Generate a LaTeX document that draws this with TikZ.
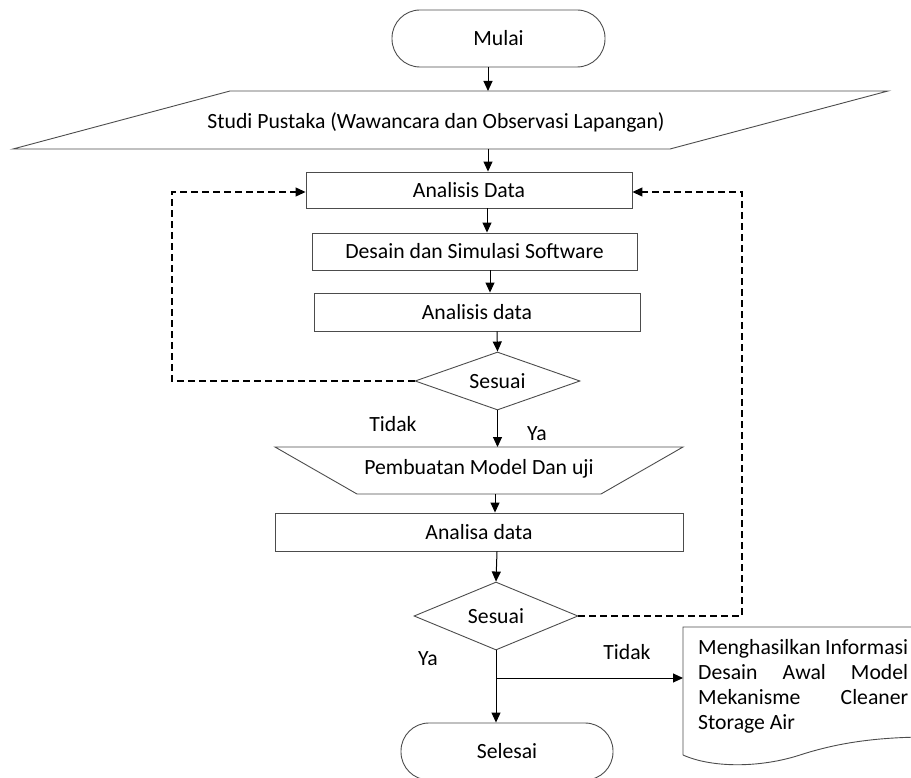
\documentclass[tikz,border=0pt]{standalone}
\usepackage{fontspec}
\setmainfont{Carlito}
\usetikzlibrary{shapes.geometric,arrows.meta}
\newcommand{\justline}[1]{\hbox to 210pt{#1}}
\begin{document}
\begin{tikzpicture}[x=1pt,y=-1pt,
  font=\fontsize{21.7}{25}\selectfont,
  shp/.style={draw=black!70, line width=0.9pt},
  boxnode/.style={shp, rectangle, inner sep=0pt},
  term/.style={shp, rectangle, rounded corners=28pt, inner sep=0pt},
  dec/.style={shp, diamond, inner sep=0pt},
  arr/.style={line width=1pt, -{Triangle[length=10pt,width=9pt]}},
  dashline/.style={line width=1.1pt, dash pattern=on 7pt off 4pt},
  dasharr/.style={dashline, -{Triangle[length=10pt,width=9pt]}},
  lbl/.style={inner sep=0pt}
]
\useasboundingbox (0,0) rectangle (911,778);
\clip (0,0) rectangle (911,778);

% terminator start
\node[term, minimum width=213pt, minimum height=57pt] (mulai) at (498.5,38.5) {Mulai};

% parallelogram
\coordinate (p1) at (230,91);
\coordinate (p2) at (888,91);
\coordinate (p3) at (670,149);
\coordinate (p4) at (13,149);
\draw[shp] (p1) -- (p2) -- (p3) -- (p4) -- cycle;
\node[lbl] (studi) at (436,122) {Studi Pustaka (Wawancara dan Observasi Lapangan)};
\coordinate (studiIn) at (488,91);
\coordinate (studiOut) at (488,149);

% boxes
\node[boxnode, minimum width=326pt, minimum height=36pt] (ad1) at (469,190) {Analisis Data};
\node[boxnode, minimum width=325pt, minimum height=37pt] (desain) at (474.5,251.5) {Desain dan Simulasi Software};
\node[boxnode, minimum width=326pt, minimum height=38pt] (ad2) at (477,312) {Analisis data};
\node[dec, aspect=2.84, minimum width=165pt, minimum height=58pt] (s1) at (497.5,381) {Sesuai};

% trapezoid
\coordinate (t1) at (275,447);
\coordinate (t2) at (683,447);
\coordinate (t3) at (601,494);
\coordinate (t4) at (357,494);
\draw[shp] (t1) -- (t2) -- (t3) -- (t4) -- cycle;
\node[lbl] (trap) at (479,469) {Pembuatan Model Dan uji};
\coordinate (trapIn) at (497,447);
\coordinate (trapOut) at (495,494);

\node[boxnode, minimum width=408pt, minimum height=38pt] (ad3) at (479,532) {Analisa data};
\node[dec, aspect=2.41, minimum width=164pt, minimum height=68pt] (s2) at (496,616) {Sesuai};
\node[term, minimum width=212pt, minimum height=57pt] (selesai) at (507,751.5) {Selesai};

% document shape
\coordinate (d1) at (683,627);
\coordinate (d2) at (930,627);
\coordinate (d3) at (930,737);
\coordinate (d4) at (683,755);
\draw[shp] (d4) -- (d1) -- (d2) -- (d3)
  .. controls (880,737) and (840,742) .. (800,755)
  .. controls (760,768) and (712,768) .. (d4);
\node[lbl, anchor=base west, align=left] (doctext) at (698,729)
  {\justline{Menghasilkan\hfill Informasi}\\
   \justline{Desain\hfill Awal\hfill Model}\\
   \justline{Mekanisme\hfill Cleaner}\\
   Storage Air};
\coordinate (docIn) at (683,678);

% main arrows
\draw[arr] (mulai.south -| studiIn) -- (studiIn);
\draw[arr] (studiOut) -- (studiOut |- ad1.north);
\draw[arr] ([xshift=18pt]ad1.south) -- ([xshift=18pt]ad1.south |- desain.north);
\draw[arr] ([xshift=15.5pt]desain.south) -- ([xshift=15.5pt]desain.south |- ad2.north);
\draw[arr] ([xshift=20pt]ad2.south) -- (s1.north);
\draw[arr] (s1.south) -- (s1.south |- trapIn);
\draw[arr] (trapOut) -- (trapOut |- ad3.north);
\draw[arr] ([xshift=18pt]ad3.south) -- (s2.north);
\draw[arr] (s2.south) -- (s2.south |- selesai.north);
\coordinate (br) at (496,678);
\draw[arr] (br) -- (docIn);

% dashed feedback loops
\coordinate (lc) at (172,192);
\coordinate (rc) at (742,192);
\draw[dasharr] (s1.west) -- (s1.west -| lc) -- (lc) -- (lc -| ad1.west);
\draw[dasharr] (s2.east) -- (s2.east -| rc) -- (rc) -- (rc -| ad1.east);

% labels
\node[lbl] (tidak1) at (393,424) {Tidak};
\node[lbl] (ya1) at (537,434) {Ya};
\node[lbl] (ya2) at (428,659) {Ya};
\node[lbl] (tidak2) at (627,652) {Tidak};
\end{tikzpicture}
\end{document}
